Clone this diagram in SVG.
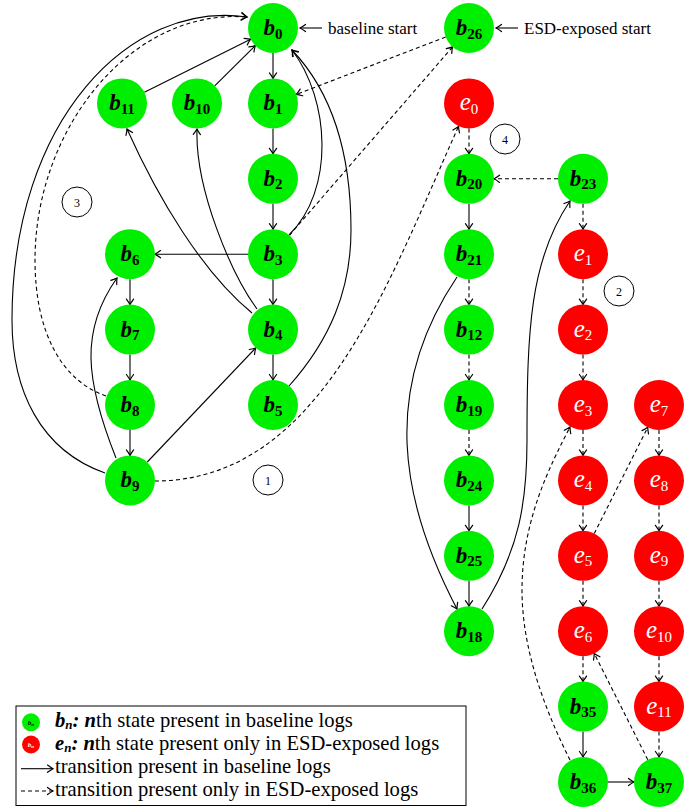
<svg xmlns="http://www.w3.org/2000/svg" width="696" height="808" viewBox="0 0 696 808">
<defs>
<style>
.g{fill:#00ee00}
.r{fill:#ff0000}
.e{fill:none;stroke:#000;stroke-width:1.1;marker-end:url(#ah)}
.d{stroke-dasharray:4 3}
.lb{font-family:"Liberation Serif","Times New Roman",serif;font-size:23px;font-weight:bold;font-style:italic;fill:#000;text-anchor:middle}
.le{font-family:"Liberation Serif","Times New Roman",serif;font-size:25px;font-style:italic;fill:#fff;text-anchor:middle}
.s{font-size:15px;font-style:normal}
.t{font-family:"Liberation Serif","Times New Roman",serif;font-size:17px;fill:#000}
.lg{font-family:"Liberation Serif","Times New Roman",serif;font-size:20.6px;fill:#000}
.bi{font-weight:bold;font-style:italic}
.cn{fill:none;stroke:#000;stroke-width:1}
.cnt{font-family:"Liberation Serif","Times New Roman",serif;font-size:12px;fill:#000;text-anchor:middle}
</style>
<marker id="ah" markerUnits="userSpaceOnUse" markerWidth="12" markerHeight="12" viewBox="-8 -6 12 12" refX="0" refY="0" orient="auto">
<path d="M-5.5,-3.6 Q-2,-1 0,0 Q-2,1 -5.5,3.6" fill="none" stroke="#000" stroke-width="1.2" stroke-dasharray="none" stroke-linecap="round"/>
</marker>
</defs>
<rect width="696" height="808" fill="#fff"/>

<g id="connectors">
<path class="e" d="M322,28 L300,28"/>
<path class="e" d="M518,28 L496,28"/>
<path class="e" d="M273,53 L273,78.4"/>
<path class="e" d="M273,128.4 L273,153.8"/>
<path class="e" d="M273,203.8 L273,229.2"/>
<path class="e" d="M273,279.2 L273,304.6"/>
<path class="e" d="M273,354.6 L273,380"/>
<path class="e" d="M130,279.2 L130,304.6"/>
<path class="e" d="M130,354.6 L130,380"/>
<path class="e" d="M130,430 L130,455.4"/>
<path class="e" d="M469,203.8 L469,229.2"/>
<path class="e" d="M469,505.4 L469,530.8"/>
<path class="e" d="M469,580.8 L469,606.2"/>
<path class="e" d="M583,731.6 L583,757"/>
<path class="e d" d="M469,128.4 L469,153.8"/>
<path class="e d" d="M469,279.2 L469,304.6"/>
<path class="e d" d="M469,354.6 L469,380"/>
<path class="e d" d="M469,430 L469,455.4"/>
<path class="e d" d="M583,203.8 L583,229.2"/>
<path class="e d" d="M583,279.2 L583,304.6"/>
<path class="e d" d="M583,354.6 L583,380"/>
<path class="e d" d="M583,430 L583,455.4"/>
<path class="e d" d="M583,505.4 L583,530.8"/>
<path class="e d" d="M583,580.8 L583,606.2"/>
<path class="e d" d="M583,656.2 L583,681.6"/>
<path class="e d" d="M659,430 L659,455.4"/>
<path class="e d" d="M659,505.4 L659,530.8"/>
<path class="e d" d="M659,580.8 L659,606.2"/>
<path class="e d" d="M659,656.2 L659,681.6"/>
<path class="e d" d="M659,731.6 L659,757"/>
<path class="e" d="M248,254.2 L155,254.2"/>
<path class="e d" d="M558,178.8 L494,178.8"/>
<path class="e" d="M608,782 L634,782"/>
<path class="e" d="M144.4,92.2 L250.6,39.2"/>
<path class="e" d="M214.7,85.8 L255.3,45.6"/>
<path class="e" d="M147.3,462 L255.7,348"/>
<path class="e d" d="M445.7,37 L296.3,94.4"/>
<path class="e d" d="M289.4,235.3 L452.6,46.9"/>
<path class="e d" d="M594.25,533.5 L647.75,427.3"/>
<path class="e d" d="M647.75,759.7 L594.25,653.5"/>
<path class="e" d="M105,473 C40,450 12,390 12,320 C12,120 130,0 247,17"/>
<path class="e d" d="M106,396 C60,380 35,330 35,260 C35,130 130,8 247,17"/>
<path class="e" d="M289,235 C335,190 330,100 292,50"/>
<path class="e" d="M289,386 C330,340 351,290 351,230 C351,150 330,90 292,50"/>
<path class="e" d="M252,313 C202,272 158,198 127,129"/>
<path class="e" d="M257,309 C232,275 195,190 197,129"/>
<path class="e" d="M116,458 C85,380 80,330 117,278"/>
<path class="e d" d="M155,481 C320,481 388,283 458.5,126.5"/>
<path class="e" d="M457,277 C381,390 400,500 457,609"/>
<path class="e" d="M482,609 C520,550 527,500 527,440 C527,330 530,260 570,201"/>
<path class="e d" d="M570,760 C545,710 522,650 522,590 C522,520 550,466 570,427"/>
</g>

<g id="annotations">
<text class="t" x="328" y="33.5">baseline start</text>
<text class="t" x="524" y="33.5">ESD-exposed start</text>
<circle class="cn" cx="268" cy="480" r="15"/><text class="cnt" x="268" y="484.5">1</text>
<circle class="cn" cx="619" cy="291" r="15"/><text class="cnt" x="619" y="295.5">2</text>
<circle class="cn" cx="77" cy="202" r="15"/><text class="cnt" x="77" y="206.5">3</text>
<circle class="cn" cx="505" cy="139" r="15"/><text class="cnt" x="505" y="143.5">4</text>
</g>

<g id="b0"><circle class="g" cx="273" cy="28" r="25"/><text class="lb" x="273" y="35">b<tspan class="s" dy="3.5">0</tspan></text></g>
<g id="b26"><circle class="g" cx="469" cy="28" r="25"/><text class="lb" x="469" y="35">b<tspan class="s" dy="3.5">26</tspan></text></g>
<g id="b11"><circle class="g" cx="122" cy="103.4" r="25"/><text class="lb" x="122" y="110.4">b<tspan class="s" dy="3.5">11</tspan></text></g>
<g id="b10"><circle class="g" cx="197" cy="103.4" r="25"/><text class="lb" x="197" y="110.4">b<tspan class="s" dy="3.5">10</tspan></text></g>
<g id="b1"><circle class="g" cx="273" cy="103.4" r="25"/><text class="lb" x="273" y="110.4">b<tspan class="s" dy="3.5">1</tspan></text></g>
<g id="e0"><circle class="r" cx="469" cy="103.4" r="25"/><text class="le" x="469" y="110.4">e<tspan class="s" dy="3.5">0</tspan></text></g>
<g id="b2"><circle class="g" cx="273" cy="178.8" r="25"/><text class="lb" x="273" y="185.8">b<tspan class="s" dy="3.5">2</tspan></text></g>
<g id="b20"><circle class="g" cx="469" cy="178.8" r="25"/><text class="lb" x="469" y="185.8">b<tspan class="s" dy="3.5">20</tspan></text></g>
<g id="b23"><circle class="g" cx="583" cy="178.8" r="25"/><text class="lb" x="583" y="185.8">b<tspan class="s" dy="3.5">23</tspan></text></g>
<g id="b6"><circle class="g" cx="130" cy="254.2" r="25"/><text class="lb" x="130" y="261.2">b<tspan class="s" dy="3.5">6</tspan></text></g>
<g id="b3"><circle class="g" cx="273" cy="254.2" r="25"/><text class="lb" x="273" y="261.2">b<tspan class="s" dy="3.5">3</tspan></text></g>
<g id="b21"><circle class="g" cx="469" cy="254.2" r="25"/><text class="lb" x="469" y="261.2">b<tspan class="s" dy="3.5">21</tspan></text></g>
<g id="e1"><circle class="r" cx="583" cy="254.2" r="25"/><text class="le" x="583" y="261.2">e<tspan class="s" dy="3.5">1</tspan></text></g>
<g id="b7"><circle class="g" cx="130" cy="329.6" r="25"/><text class="lb" x="130" y="336.6">b<tspan class="s" dy="3.5">7</tspan></text></g>
<g id="b4"><circle class="g" cx="273" cy="329.6" r="25"/><text class="lb" x="273" y="336.6">b<tspan class="s" dy="3.5">4</tspan></text></g>
<g id="b12"><circle class="g" cx="469" cy="329.6" r="25"/><text class="lb" x="469" y="336.6">b<tspan class="s" dy="3.5">12</tspan></text></g>
<g id="e2"><circle class="r" cx="583" cy="329.6" r="25"/><text class="le" x="583" y="336.6">e<tspan class="s" dy="3.5">2</tspan></text></g>
<g id="b8"><circle class="g" cx="130" cy="405" r="25"/><text class="lb" x="130" y="412">b<tspan class="s" dy="3.5">8</tspan></text></g>
<g id="b5"><circle class="g" cx="273" cy="405" r="25"/><text class="lb" x="273" y="412">b<tspan class="s" dy="3.5">5</tspan></text></g>
<g id="b19"><circle class="g" cx="469" cy="405" r="25"/><text class="lb" x="469" y="412">b<tspan class="s" dy="3.5">19</tspan></text></g>
<g id="e3"><circle class="r" cx="583" cy="405" r="25"/><text class="le" x="583" y="412">e<tspan class="s" dy="3.5">3</tspan></text></g>
<g id="e7"><circle class="r" cx="659" cy="405" r="25"/><text class="le" x="659" y="412">e<tspan class="s" dy="3.5">7</tspan></text></g>
<g id="b9"><circle class="g" cx="130" cy="480.4" r="25"/><text class="lb" x="130" y="487.4">b<tspan class="s" dy="3.5">9</tspan></text></g>
<g id="b24"><circle class="g" cx="469" cy="480.4" r="25"/><text class="lb" x="469" y="487.4">b<tspan class="s" dy="3.5">24</tspan></text></g>
<g id="e4"><circle class="r" cx="583" cy="480.4" r="25"/><text class="le" x="583" y="487.4">e<tspan class="s" dy="3.5">4</tspan></text></g>
<g id="e8"><circle class="r" cx="659" cy="480.4" r="25"/><text class="le" x="659" y="487.4">e<tspan class="s" dy="3.5">8</tspan></text></g>
<g id="b25"><circle class="g" cx="469" cy="555.8" r="25"/><text class="lb" x="469" y="562.8">b<tspan class="s" dy="3.5">25</tspan></text></g>
<g id="e5"><circle class="r" cx="583" cy="555.8" r="25"/><text class="le" x="583" y="562.8">e<tspan class="s" dy="3.5">5</tspan></text></g>
<g id="e9"><circle class="r" cx="659" cy="555.8" r="25"/><text class="le" x="659" y="562.8">e<tspan class="s" dy="3.5">9</tspan></text></g>
<g id="b18"><circle class="g" cx="469" cy="631.2" r="25"/><text class="lb" x="469" y="638.2">b<tspan class="s" dy="3.5">18</tspan></text></g>
<g id="e6"><circle class="r" cx="583" cy="631.2" r="25"/><text class="le" x="583" y="638.2">e<tspan class="s" dy="3.5">6</tspan></text></g>
<g id="e10"><circle class="r" cx="659" cy="631.2" r="25"/><text class="le" x="659" y="638.2">e<tspan class="s" dy="3.5">10</tspan></text></g>
<g id="b35"><circle class="g" cx="583" cy="706.6" r="25"/><text class="lb" x="583" y="713.6">b<tspan class="s" dy="3.5">35</tspan></text></g>
<g id="e11"><circle class="r" cx="659" cy="706.6" r="25"/><text class="le" x="659" y="713.6">e<tspan class="s" dy="3.5">11</tspan></text></g>
<g id="b36"><circle class="g" cx="583" cy="782" r="25"/><text class="lb" x="583" y="789">b<tspan class="s" dy="3.5">36</tspan></text></g>
<g id="b37"><circle class="g" cx="659" cy="782" r="25"/><text class="lb" x="659" y="789">b<tspan class="s" dy="3.5">37</tspan></text></g>

<g id="legend">
<rect x="16" y="706" width="450" height="99.5" fill="#fff" stroke="#000" stroke-width="1"/>
<circle class="g" cx="31" cy="722.3" r="9"/>
<text x="31" y="724.5" font-family="Liberation Serif,serif" font-size="7" font-weight="bold" font-style="italic" text-anchor="middle">b<tspan font-size="5" dy="1.5">n</tspan></text>
<circle class="r" cx="31" cy="744.5" r="9"/>
<text x="31" y="746.7" font-family="Liberation Serif,serif" font-size="7" font-weight="bold" font-style="italic" fill="#fff" text-anchor="middle">b<tspan font-size="5" dy="1.5">n</tspan></text>
<text class="lg" x="55" y="727"><tspan class="bi">b</tspan><tspan class="bi" font-size="13" dy="1.5">n</tspan><tspan class="bi" dy="-1.5">:</tspan> <tspan class="bi">n</tspan>th state present in baseline logs</text>
<text class="lg" x="55" y="750"><tspan class="bi">e</tspan><tspan class="bi" font-size="13" dy="1.5">n</tspan><tspan class="bi" dy="-1.5">:</tspan> <tspan class="bi">n</tspan>th state present only in ESD-exposed logs</text>
<path class="e" d="M21,768.7 L53,768.7"/>
<text class="lg" x="55" y="773">transition present in baseline logs</text>
<path class="e d" d="M21,791 L53,791"/>
<text class="lg" x="55" y="796">transition present only in ESD-exposed logs</text>
</g>
</svg>
